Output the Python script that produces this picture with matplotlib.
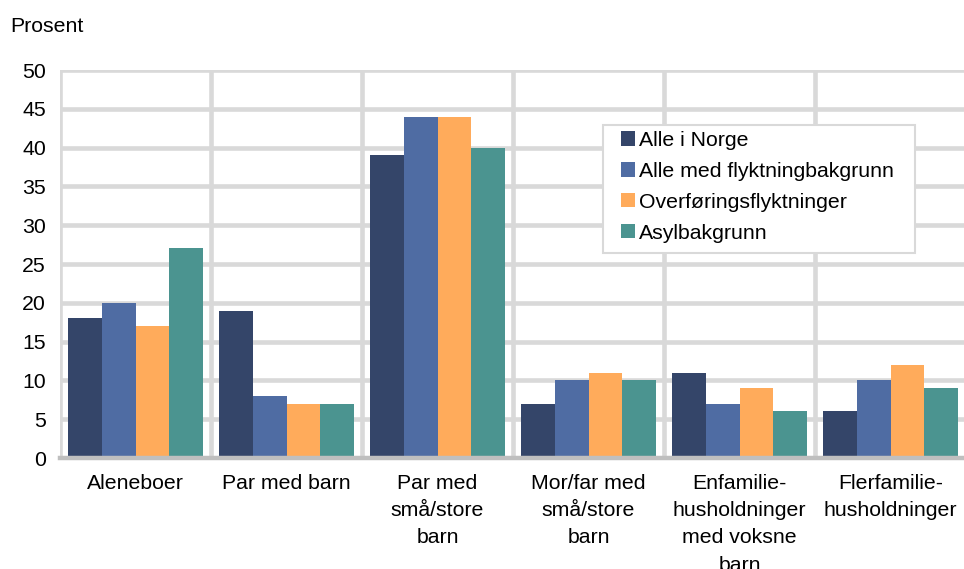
# -*- coding: utf-8 -*-

import numpy as np
import matplotlib.pyplot as plt
from matplotlib.patches import Rectangle
from matplotlib.ticker import MultipleLocator

# Data.
categories = [
    "Aleneboer",
    "Par med barn",
    "Par med\nsmå/store\nbarn",
    "Mor/far med\nsmå/store\nbarn",
    "Enfamilie-\nhusholdninger\nmed voksne\nbarn",
    "Flerfamilie-\nhusholdninger",
]
series_names = [
    "Alle i Norge",
    "Alle med flyktningbakgrunn",
    "Overføringsflyktninger",
    "Asylbakgrunn",
]
alle_i_norge = [18, 19, 39, 7, 11, 6]
alle_flyktning = [20, 8, 44, 10, 7, 10]
overforing = [17, 7, 44, 11, 9, 12]
asyl = [27, 7, 40, 10, 6, 9]
colors = ["#344569", "#4F6CA3", "#FFAB5B", "#4B9490"]

plt.rcParams["font.family"] = ["Liberation Sans", "DejaVu Sans"]
fs = 15.3

fig = plt.figure(figsize=(9.64, 5.69), dpi=100)
ax = fig.add_axes([60 / 964, 111 / 569, 906 / 964, 388 / 569])

x = np.arange(len(categories)) + 0.5
width = 0.225
all_series = [alle_i_norge, alle_flyktning, overforing, asyl]
for i, (vals, name, col) in enumerate(zip(all_series, series_names, colors)):
    ax.bar(x + (i - 1.5) * width, vals, width, color=col, label=name, zorder=3)

# Axes limits and grid.
ax.set_xlim(0, len(categories))
ax.set_ylim(0, 50)
ax.yaxis.set_major_locator(MultipleLocator(5))
ax.set_xticks(x)
ax.set_xticks(np.arange(len(categories) + 1), minor=True)
ax.set_xticklabels(categories, linespacing=1.55)
ax.set_axisbelow(True)
ax.grid(axis="y", which="major", color="#D9D9D9", linewidth=3.3)
ax.grid(axis="x", which="minor", color="#D9D9D9", linewidth=3.3)

for side in ["top", "right", "left"]:
    ax.spines[side].set_visible(False)
ax.spines["bottom"].set_color("#BFBFBF")
ax.spines["bottom"].set_linewidth(3.2)
ax.spines["bottom"].set_zorder(4)

ax.tick_params(axis="both", which="both", length=0, labelsize=fs)
ax.tick_params(axis="x", pad=11.5)
ax.tick_params(axis="y", pad=10)

fig.text(10 / 964, 1 - 26 / 569, "Prosent", fontsize=fs, va="center", ha="left")

# Legend box (white with light grey border) and entries.
box = Rectangle((603 / 964, 1 - 253 / 569), 312 / 964, 128 / 569,
                transform=fig.transFigure, facecolor="white",
                edgecolor="#D9D9D9", linewidth=1.5, zorder=4.5, clip_on=False)
ax.add_patch(box)
leg = ax.legend(loc="upper left", bbox_to_anchor=(621 / 964, 1 - 131 / 569),
                bbox_transform=fig.transFigure, fontsize=fs, frameon=False,
                handlelength=0.65, handleheight=0.65, handletextpad=0.2,
                labelspacing=0.56, borderpad=0, borderaxespad=0)
leg.set_zorder(5)

fig.savefig("out.png", dpi=100)
